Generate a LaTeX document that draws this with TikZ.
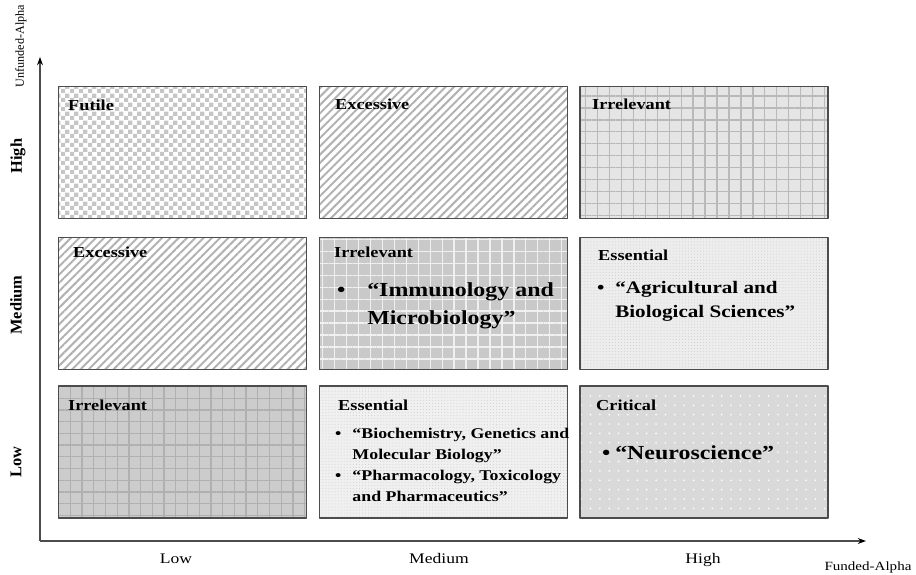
\documentclass[tikz,border=0pt]{standalone}
\usepackage{fontspec}
\setmainfont{Liberation Serif}[FakeStretch=1.2]
\newfontfamily\plainserif{Liberation Serif}
\usetikzlibrary{patterns.meta,arrows.meta}

\tikzdeclarepattern{name=checks, type=uncolored,
	bounding box={(0pt,0pt) and (7.4pt,7.4pt)},
	tile size={(7.4pt,7.4pt)},
	code={\fill (0pt,0pt) rectangle (3.7pt,3.7pt) (3.7pt,3.7pt) rectangle (7.4pt,7.4pt);}}

\begin{document}
\begin{tikzpicture}[x=0.03cm,y=-0.03cm,line join=round,>=stealth,
		cell/.style={draw=gray!60!black,line width=1.1pt,minimum width=7.44cm,minimum height=3.96cm,inner sep=0pt},
		tag/.style={anchor=base west,inner sep=0pt,font=\fontsize{13}{15}\selectfont\bfseries},
		items/.style={anchor=base west,inner sep=0pt},
		axlab/.style={inner sep=0pt,anchor=base,font=\fontsize{12.5}{14}\selectfont},
		ylab/.style={inner sep=0pt,rotate=90,font=\plainserif\fontsize{14}{16}\selectfont\bfseries}]
	\useasboundingbox (0,0) rectangle (916,574);
	% the nine cells
	\node[cell,pattern={checks},pattern color=gray!45] (futile) at (182.5,152.5) {};
	\node[cell,pattern={Lines[angle=45,distance=5pt,line width=1.7pt]},pattern color=gray!60] (excTop) at (443.5,152.5) {};
	\node[cell,preaction={fill=gray!20},pattern={Hatch[distance=10.2pt,line width=1.1pt]},pattern color=gray!55] (irrTop) at (704,152.5) {};
	\node[cell,pattern={Lines[angle=45,distance=5pt,line width=1.7pt]},pattern color=gray!60] (excMid) at (182.5,303.5) {};
	\node[cell,preaction={fill=gray!42},pattern={Hatch[distance=10.2pt,line width=1.1pt]},pattern color=gray!12] (irrMid) at (443.5,303.5) {};
	\node[cell,preaction={fill=gray!14},pattern={Dots[distance=2.6pt,radius=0.45pt]},pattern color=gray!38] (essMid) at (704,303.5) {};
	\node[cell,preaction={fill=gray!40},pattern={Hatch[distance=10pt,line width=1.1pt]},pattern color=gray!62] (irrLow) at (182.5,452) {};
	\node[cell,preaction={fill=gray!12},pattern={Dots[distance=2.6pt,radius=0.45pt]},pattern color=gray!36] (essLow) at (443.5,452) {};
	\node[cell,preaction={fill=gray!30},pattern={Dots[distance=8pt,radius=0.8pt]},pattern color=white] (crit) at (704,452) {};
	% cell titles
	\node[tag] (tFutile) at (68,110) {Futile};
	\node[tag] (tExcTop) at (335,109) {Excessive};
	\node[tag] (tIrrTop) at (592,109) {Irrelevant};
	\node[tag] (tExcMid) at (73,257) {Excessive};
	\node[tag] (tIrrMid) at (334,257) {Irrelevant};
	\node[tag] (tEssMid) at (598,260) {Essential};
	\node[tag] (tIrrLow) at (68,410) {Irrelevant};
	\node[tag] (tEssLow) at (338,410) {Essential};
	\node[tag] (tCrit) at (596,410) {Critical};
	% listed fields
	\node[items,font=\fontsize{17}{24}\selectfont\bfseries] (lImmu) at (337,296)
		{\begin{tabular}[t]{@{}l@{\hspace{0.65cm}}l@{}}\textbullet & “Immunology and\\ & Microbiology”\end{tabular}};
	\node[items,font=\fontsize{15}{20.5}\selectfont\bfseries] (lAgri) at (597,293)
		{\begin{tabular}[t]{@{}l@{\hspace{0.32cm}}l@{}}\textbullet & “Agricultural and\\ & Biological Sciences”\end{tabular}};
	\node[items,font=\fontsize{12.7}{18.2}\selectfont\bfseries] (lBio) at (335,438)
		{\begin{tabular}[t]{@{}l@{\hspace{0.33cm}}l@{}}\textbullet & “Biochemistry, Genetics and\\ & Molecular Biology”\\
		\textbullet & “Pharmacology, Toxicology\\ & and Pharmaceutics”\end{tabular}};
	\node[items,font=\fontsize{17}{24}\selectfont\bfseries] (lNeuro) at (602,459)
		{\begin{tabular}[t]{@{}l@{\hspace{0.14cm}}l@{}}\textbullet & “Neuroscience”\end{tabular}};
	% axes
	\coordinate (O) at (40,541);
	\coordinate (yEnd) at (40,57);
	\coordinate (xEnd) at (866,541);
	\draw[gray!60!black,line width=1.1pt,-{Stealth[black,length=7pt,width=5pt]}] (O) -- (yEnd);
	\draw[gray!60!black,line width=1.1pt,-{Stealth[black,length=7pt,width=5pt]}] (O) -- (xEnd);
	\node[ylab,font=\plainserif\fontsize{10.4}{12}\selectfont] (yName) at (21,46) {Unfunded-Alpha};
	\node[ylab] (yHigh) at (18,156) {High};
	\node[ylab] (yMed) at (16,305) {Medium};
	\node[ylab] (yLow) at (16,462) {Low};
	\node[axlab] (xLow) at (176,563) {Low};
	\node[axlab] (xMed) at (439,563) {Medium};
	\node[axlab] (xHigh) at (703,563) {High};
	\node[axlab,font=\fontsize{10.7}{12}\selectfont] (xName) at (868,570) {Funded-Alpha};
\end{tikzpicture}
\end{document}
